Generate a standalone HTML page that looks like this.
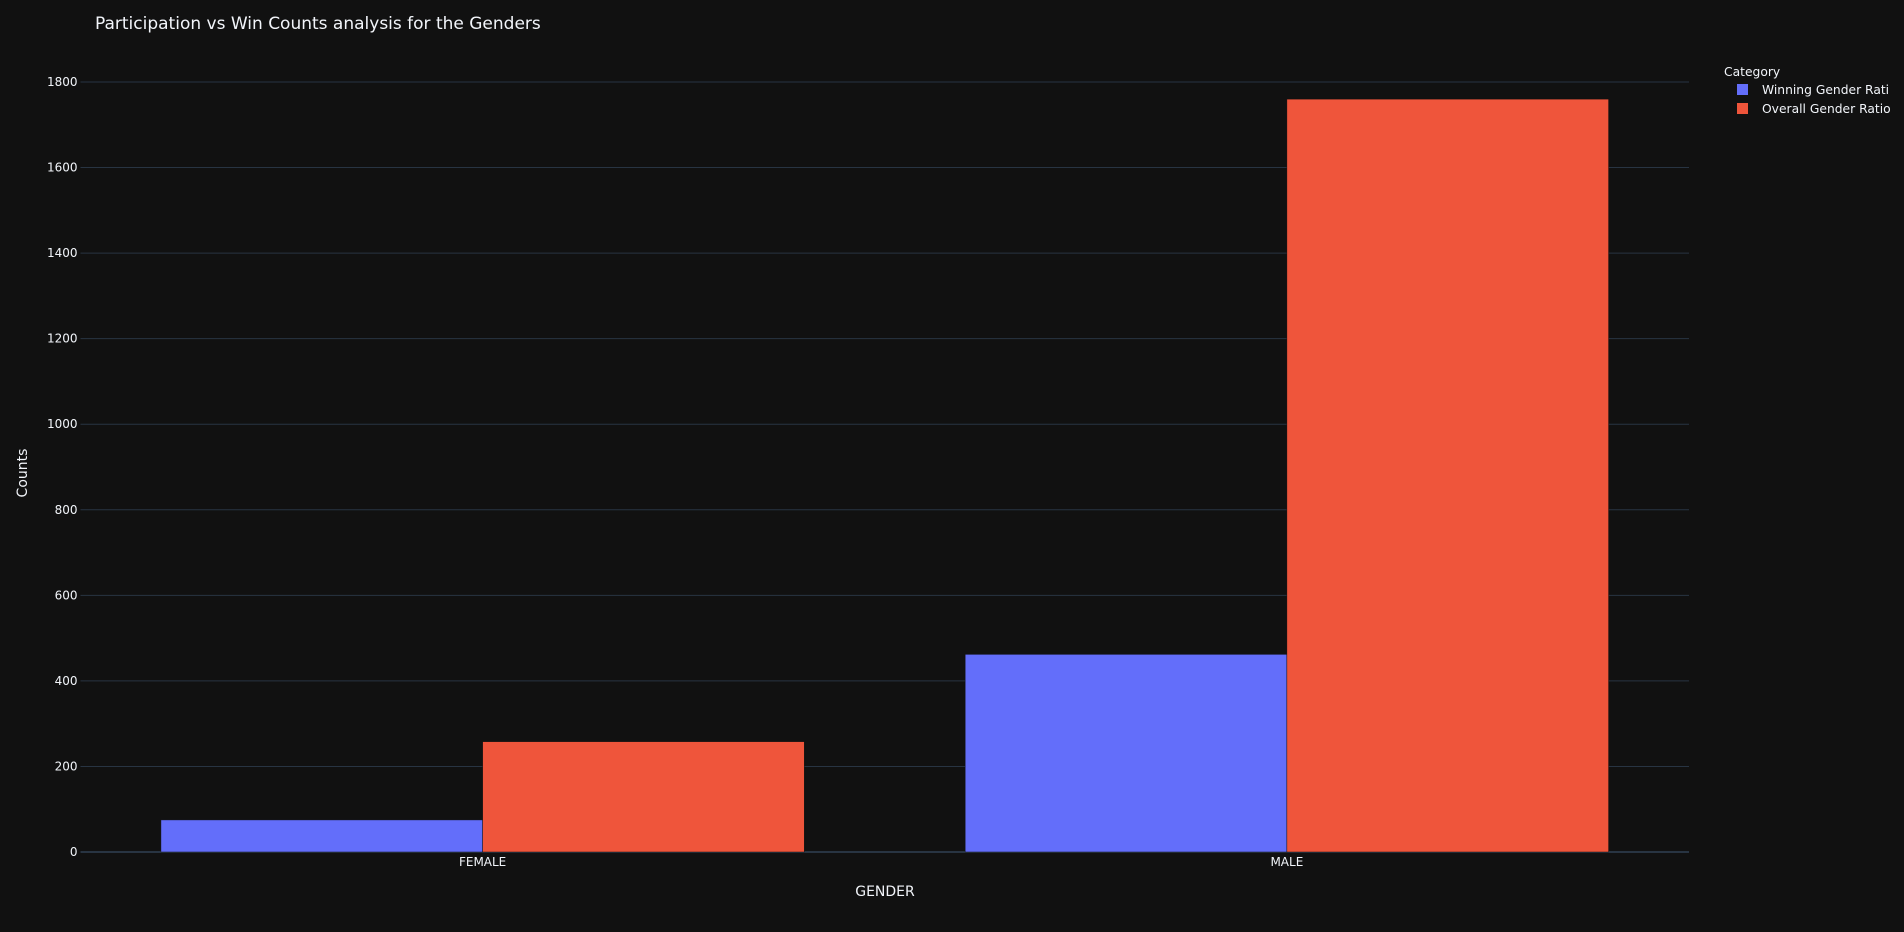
<!DOCTYPE html>
<html><head><meta charset="utf-8"><style>
html,body{margin:0;padding:0;background:#111111;}
svg{display:block;font-family:"DejaVu Sans","Liberation Sans",sans-serif;}
</style></head><body>
<svg id="chart" width="1904" height="932">
<rect width="1904" height="932" fill="#111111"/>
<text x="95" y="29" fill="#f2f5fa" font-size="17">Participation vs Win Counts analysis for the Genders</text>
<g id="grid"></g>
<g id="bars"></g>
<g id="labels"></g>
<text transform="translate(27,473) rotate(-90)" text-anchor="middle" fill="#f2f5fa" font-size="14">Counts</text>
<text x="885" y="896" text-anchor="middle" fill="#f2f5fa" font-size="14">GENDER</text>
<g>
<text x="1724" y="76" fill="#f2f5fa" font-size="12.3">Category</text>
<g><rect x="1737" y="84" width="11" height="11" fill="#636efa"/><text x="1762" y="94" fill="#f2f5fa" font-size="12.3">Winning Gender Rati</text></g>
<g><rect x="1737" y="103" width="11" height="11" fill="#ef553b"/><text x="1762" y="113" fill="#f2f5fa" font-size="12.3">Overall Gender Ratio</text></g>
</g>
</svg>
<script>
const categories = ["FEMALE","MALE"];
const winning = [75, 462];
const overall = [258, 1760];
const yTicks = [0,200,400,600,800,1000,1200,1400,1600,1800];
const NS="http://www.w3.org/2000/svg";
const L=80.5,R=1689,Y0=852,Y1800=82;
const y=v=>Y0-(v/1800)*(Y0-Y1800);
const band=(R-L)/categories.length;
const xc=i=>L+band*(i+0.5);
const bw=band*0.8/2;
function mk(tag,attrs,parent){const e=document.createElementNS(NS,tag);for(const k in attrs)e.setAttribute(k,attrs[k]);parent.appendChild(e);return e;}
const grid=document.getElementById('grid'),bars=document.getElementById('bars'),labels=document.getElementById('labels');
yTicks.forEach(t=>{
  const l=mk('line',{x1:L,x2:R,y1:y(t),y2:y(t),stroke:'#283442','stroke-width':t===0?2:1},grid);
  
  
  const tx=mk('text',{x:L-3,y:y(t)+4,'text-anchor':'end',fill:'#f2f5fa','font-size':12},labels);
  tx.textContent=t;
  
  
});
categories.forEach((c,i)=>{
  const b1=mk('rect',{x:xc(i)-bw,y:y(winning[i]),width:bw,height:Y0-y(winning[i]),fill:'#636efa',stroke:'#111111','stroke-width':0.5},bars);
  
  
  const b2=mk('rect',{x:xc(i),y:y(overall[i]),width:bw,height:Y0-y(overall[i]),fill:'#ef553b',stroke:'#111111','stroke-width':0.5},bars);
  
  
  const tx=mk('text',{x:xc(i),y:866,'text-anchor':'middle',fill:'#f2f5fa','font-size':12},labels);
  tx.textContent=c;
  
  
});
</script>
</body></html>
